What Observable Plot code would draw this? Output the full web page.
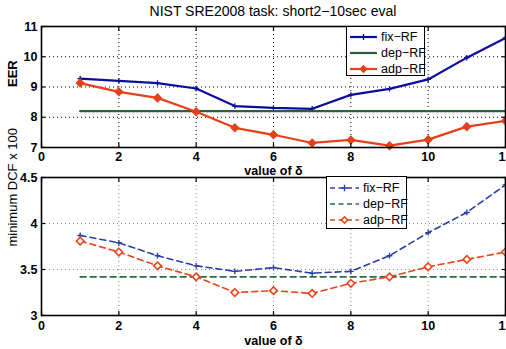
<!DOCTYPE html>
<html>
<head>
<meta charset="utf-8">
<script src="https://cdn.jsdelivr.net/npm/d3@7"></script>
<script src="https://cdn.jsdelivr.net/npm/@observablehq/plot@0.6"></script>
<style>
  html, body { margin: 0; padding: 0; background: white; }
  #wrap { position: relative; width: 506px; height: 349px; overflow: hidden; font-family: "Liberation Sans", Arial, sans-serif; }
  #title { position: absolute; left: 0; width: 546px; top: 3px; text-align: center; font-size: 14px; color: #000; white-space: nowrap; }
  .panel { position: absolute; left: 0; }
  .legend { position: absolute; background: white; border: 1.3px solid #000; font-size: 12.5px; box-sizing: border-box; }
  .legend .row { position: absolute; left: 0; height: 16px; display: flex; align-items: center; }
  .legend svg { display: block; }
</style>
</head>
<body>
<div id="wrap">
  <div id="title">NIST SRE2008 task: short2−10sec eval</div>
</div>
<script>
// ---- data ----
const delta = [1, 2, 3, 4, 5, 6, 7, 8, 9, 10, 11, 12];
const seriesNames = ["fix−RF", "dep−RF", "adp−RF"];

const eerFix = [9.28, 9.20, 9.13, 8.95, 8.37, 8.31, 8.28, 8.74, 8.94, 9.25, 9.97, 10.62];
const eerDep = [8.2, 8.2, 8.2, 8.2, 8.2, 8.2, 8.2, 8.2, 8.2, 8.2, 8.2, 8.2];
const eerAdp = [9.13, 8.84, 8.64, 8.18, 7.65, 7.42, 7.15, 7.25, 7.06, 7.26, 7.69, 7.88];

const dcfFix = [3.87, 3.79, 3.65, 3.54, 3.48, 3.52, 3.46, 3.48, 3.65, 3.90, 4.12, 4.42];
const dcfDep = [3.42, 3.42, 3.42, 3.42, 3.42, 3.42, 3.42, 3.42, 3.42, 3.42, 3.42, 3.42];
const dcfAdp = [3.81, 3.69, 3.54, 3.42, 3.25, 3.27, 3.24, 3.35, 3.42, 3.53, 3.61, 3.69];

const xTicks = [0, 2, 4, 6, 8, 10, 12];
const eerTicks = [7, 8, 9, 10, 11];
const dcfTicks = [3, 3.5, 4, 4.5];
const xLabel = "value of δ";

// ---- helpers ----
const rows = (arr) => delta.map((d, i) => ({delta: d, value: arr[i]}));
const wrap = document.getElementById("wrap");

function panel(cfg) {
  const innerX = xTicks.filter((t) => t > 0 && t < 12);
  const innerY = cfg.yTicks.slice(1, -1);
  const marks = [
    Plot.gridX(innerX, {stroke: cfg.gridColor, strokeOpacity: 1, strokeWidth: 1, strokeDasharray: "1,3"}),
    Plot.gridY(innerY, {stroke: cfg.gridColor, strokeOpacity: 1, strokeWidth: 1, strokeDasharray: "1,3"})
  ];
  for (const s of cfg.series) {
    marks.push(Plot.line(rows(s.values), {x: "delta", y: "value", stroke: s.color, strokeWidth: cfg.lineWidth, strokeDasharray: cfg.dash}));
    if (s.symbol) {
      marks.push(Plot.dot(rows(s.values), {x: "delta", y: "value", symbol: s.symbol, r: s.r, fill: s.fill, stroke: s.color, strokeWidth: s.sw}));
    }
  }
  marks.push(
    Plot.frame({stroke: "#000", strokeWidth: 1.6}),
    // inward ticks
    Plot.axisX(xTicks, {anchor: "bottom", tickSize: -4, text: null, label: null, strokeWidth: 1.2}),
    Plot.axisX(xTicks, {anchor: "top", tickSize: -4, text: null, label: null, strokeWidth: 1.2}),
    Plot.axisY(cfg.yTicks, {anchor: "left", tickSize: -4, text: null, label: null, strokeWidth: 1.2}),
    Plot.axisY(cfg.yTicks, {anchor: "right", tickSize: -4, text: null, label: null, strokeWidth: 1.2}),
    // labels
    Plot.axisX(xTicks, {anchor: "bottom", tickSize: 0, tickPadding: cfg.xPad, fontWeight: "bold", fontSize: 12.5, label: null}),
    Plot.axisY(cfg.yTicks, {anchor: "left", tickSize: 0, tickPadding: 4, fontWeight: "bold", fontSize: 12.5, label: null, tickFormat: cfg.yFormat}),
    Plot.text([xLabel], {frameAnchor: "bottom", dy: cfg.xLabelDy, text: (d) => d, fontWeight: "bold", fontSize: 12.5, lineAnchor: "middle"}),
    Plot.text([cfg.ylabel], {frameAnchor: "left", dx: -29, rotate: -90, text: (d) => d, fontWeight: cfg.ylabelWeight, fontSize: cfg.ylabelSize, lineAnchor: "middle"})
  );
  const svg = Plot.plot({
    width: 506,
    height: cfg.height,
    marginTop: cfg.mt,
    marginBottom: cfg.mb,
    marginLeft: 41,
    marginRight: 1,
    x: {domain: [0, 12], axis: null},
    y: {domain: cfg.yDomain, axis: null},
    style: {background: "transparent", fontFamily: "Liberation Sans, Arial, sans-serif", color: "#000", overflow: "visible"},
    marks
  });
  svg.classList.add("panel");
  svg.style.top = cfg.top + "px";
  wrap.appendChild(svg);
}

function legend(cfg) {
  const box = document.createElement("div");
  box.className = "legend";
  Object.assign(box.style, {left: cfg.left + "px", top: cfg.top + "px", width: cfg.width + "px", height: cfg.height + "px"});
  cfg.series.forEach((s, i) => {
    const row = document.createElement("div");
    row.className = "row";
    row.style.top = (cfg.rowTop + i * cfg.rowStep - 8) + "px";
    row.style.left = "2px";
    const sw = cfg.swatch;
    const svg = d3.create("svg").attr("width", sw + 2).attr("height", 16);
    svg.append("line").attr("x1", 1).attr("x2", sw).attr("y1", 8).attr("y2", 8)
      .attr("stroke", s.color).attr("stroke-width", cfg.lineWidth).attr("stroke-dasharray", cfg.dash || null);
    if (s.symbol) {
      const isPlus = s.symbol === "plus";
      const sym = d3.symbol(isPlus ? d3.symbolPlus : d3.symbolSquare, isPlus ? s.legendSize : 20)();
      svg.append("path").attr("d", sym)
        .attr("transform", `translate(${(sw + 1) / 2},8)` + (isPlus ? "" : " rotate(45)"))
        .attr("fill", isPlus ? "none" : s.fill)
        .attr("stroke", s.color).attr("stroke-width", s.sw);
    }
    row.appendChild(svg.node());
    const t = document.createElement("span");
    t.textContent = s.name;
    t.style.marginLeft = "2px";
    row.appendChild(t);
    box.appendChild(row);
  });
  wrap.appendChild(box);
}

// ---- top panel: EER ----
const topSeries = [
  {name: seriesNames[0], values: eerFix, color: "#0c0c9e", symbol: "plus", r: 1.9, fill: "none", sw: 1.3, legendSize: 14},
  {name: seriesNames[1], values: eerDep, color: "#2d5e3e"},
  {name: seriesNames[2], values: eerAdp, color: "#e4401a", symbol: "diamond2", r: 3.4, fill: "#e4401a", sw: 1.4}
];
panel({
  top: 0, height: 182, mt: 26, mb: 35,
  yDomain: [7, 11], yTicks: eerTicks, yFormat: (d) => String(d),
  series: topSeries, lineWidth: 2.2, dash: null,
  gridColor: "#000", xPad: 5, xLabelDy: 23,
  ylabel: "EER", ylabelWeight: "bold", ylabelSize: 13
});

// ---- bottom panel: DCF ----
const botSeries = [
  {name: seriesNames[0], values: dcfFix, color: "#2a3ea8", symbol: "plus", r: 2.0, fill: "none", sw: 1.4, legendSize: 16},
  {name: seriesNames[1], values: dcfDep, color: "#2e6a48"},
  {name: seriesNames[2], values: dcfAdp, color: "#e8461c", symbol: "diamond2", r: 3.4, fill: "white", sw: 1.6}
];
panel({
  top: 170, height: 179, mt: 7, mb: 34,
  yDomain: [3, 4.5], yTicks: dcfTicks, yFormat: (d) => (d === 3 || d === 4 ? String(d) : d3.format(".1f")(d)),
  series: botSeries, lineWidth: 1.6, dash: "6,4",
  gridColor: "#888", xPad: 6, xLabelDy: 25,
  ylabel: "minimum DCF x 100", ylabelWeight: "normal", ylabelSize: 13
});

legend({left: 346, top: 26, width: 79, height: 50, rowTop: 10, rowStep: 16, swatch: 28, series: topSeries, lineWidth: 2.2});
legend({left: 326, top: 176, width: 81, height: 53, rowTop: 11, rowStep: 16, swatch: 30, series: botSeries, lineWidth: 1.6, dash: "5,3.5"});
</script>
</body>
</html>
